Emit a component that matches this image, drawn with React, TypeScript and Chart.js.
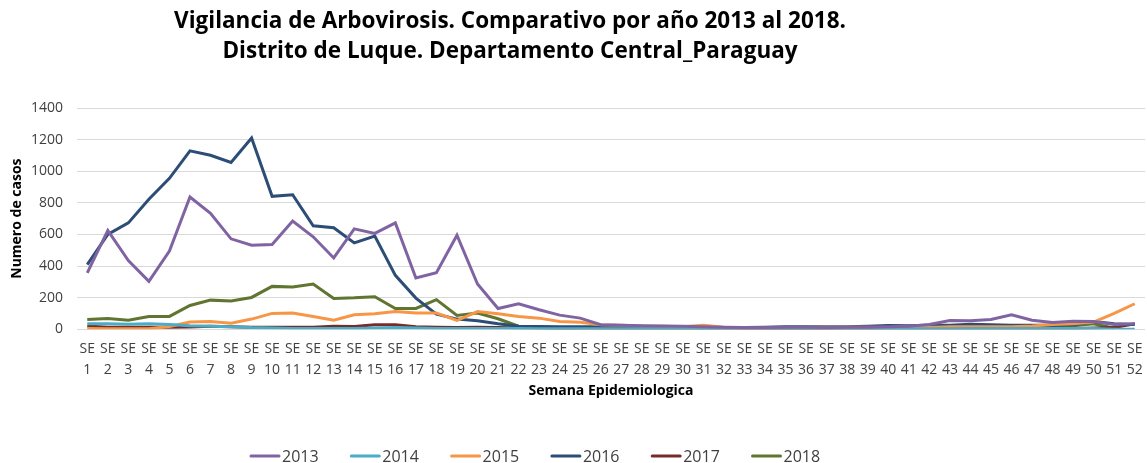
import React, { useEffect, useRef } from 'react';
import { Chart, registerables } from 'chart.js';

Chart.register(...registerables);

const TITLE_LINES = [
  'Vigilancia de Arbovirosis. Comparativo por año 2013 al 2018.',
  'Distrito de Luque. Departamento Central_Paraguay',
];
const Y_TITLE = 'Numero de casos';
const X_TITLE = 'Semana Epidemiologica';

const WEEKS: string[][] = Array.from({ length: 52 }, (_, i) => ['SE', String(i + 1)]);

const YEARS = ['2013', '2014', '2015', '2016', '2017', '2018'];
const COLORS = ['#8064A2', '#4BACC6', '#F79646', '#2C4D75', '#772C2A', '#5F7530'];

const S2013 = [356, 625, 434, 303, 494, 837, 733, 572, 532, 536, 684, 585, 451, 635, 606, 673, 324, 358, 595, 286, 131, 161, 123, 89, 70, 28, 25, 22, 20, 18, 15, 12, 10, 10, 12, 12, 10, 12, 12, 15, 18, 30, 55, 53, 61, 91, 57, 42, 51, 49, 30, 35];
const S2014 = [35, 35, 32, 35, 30, 22, 18, 15, 10, 8, 5, 5, 5, 5, 8, 10, 8, 5, 5, 5, 5, 5, 3, 3, 3, 3, 3, 3, 3, 3, 3, 3, 3, 3, 3, 3, 3, 3, 3, 3, 3, 3, 3, 5, 5, 5, 5, 5, 5, 5, 0, 0];
const S2015 = [5, 3, 3, 3, 17, 45, 48, 38, 64, 100, 102, 81, 57, 91, 98, 112, 102, 102, 55, 112, 98, 81, 70, 49, 44, 28, 25, 20, 18, 15, 25, 12, 10, 10, 10, 10, 12, 12, 12, 10, 10, 10, 15, 15, 15, 15, 20, 30, 35, 45, 100, 161];
const S2016 = [409, 600, 673, 822, 955, 1129, 1101, 1055, 1210, 841, 851, 655, 642, 546, 589, 341, 197, 95, 64, 53, 34, 19, 17, 15, 15, 15, 15, 15, 15, 12, 12, 10, 10, 12, 15, 15, 15, 15, 18, 23, 22, 25, 25, 32, 28, 25, 25, 25, 28, 48, 35, 30];
const S2017 = [20, 12, 12, 13, 13, 14, 18, 15, 12, 12, 12, 12, 18, 17, 28, 28, 16, 12, 10, 12, 10, 8, 5, 5, 3, 3, 3, 3, 3, 3, 3, 3, 3, 3, 3, 3, 3, 3, 3, 3, 3, 3, 3, 3, 3, 3, 3, 3, 5, 8, 10, 34];
const S2018 = [62, 68, 57, 81, 81, 150, 184, 178, 201, 271, 267, 286, 195, 199, 206, 131, 131, 187, 87, 102, 66, 19, 12, 6, 8, 8, 8, 8, 8, 8, 8, 8, 5, 5, 5, 5, 5, 8, 8, 10, 10, 10, 12, 15, 18, 18, 20, 20, 22, 35, 6, null];

const SERIES = [S2013, S2014, S2015, S2016, S2017, S2018];

const FONT = '"Open Sans", "Noto Sans", sans-serif';
const TEXT_GRAY = '#404040';

const decorPlugin = {
  id: 'decor',
  afterDraw(chart: any) {
    const ctx = chart.ctx as CanvasRenderingContext2D;
    ctx.save();
    ctx.fillStyle = '#000';
    ctx.font = `bold 22.5px ${FONT}`;
    ctx.textAlign = 'center';
    ctx.textBaseline = 'middle';
    TITLE_LINES.forEach((t, i) => ctx.fillText(t, 510, 22 + i * 30));
    // legend
    ctx.font = `16px ${FONT}`;
    ctx.textAlign = 'left';
    chart.data.datasets.forEach((ds: any, i: number) => {
      const x0 = 250 + i * 100.3;
      const y = 456;
      ctx.strokeStyle = ds.borderColor;
      ctx.lineWidth = 3;
      ctx.lineCap = 'round';
      ctx.beginPath();
      ctx.moveTo(x0 + 1, y);
      ctx.lineTo(x0 + 29, y);
      ctx.stroke();
      ctx.fillStyle = TEXT_GRAY;
      ctx.fillText(ds.label, x0 + 32, y + 1);
    });
    ctx.restore();
  },
};

export default function App() {
  const ref = useRef<HTMLCanvasElement>(null);
  useEffect(() => {
    if (!ref.current) return;
    const chart = new Chart(ref.current, {
      type: 'line',
      data: {
        labels: WEEKS,
        datasets: YEARS.map((y, i) => ({
          label: y,
          data: SERIES[i],
          borderColor: COLORS[i],
          backgroundColor: COLORS[i],
          borderWidth: 3,
          pointRadius: 0,
          tension: 0,
          fill: false,
        })),
      },
      options: {
        animation: false,
        responsive: true,
        maintainAspectRatio: false,
        layout: { padding: { top: 108, right: 2, bottom: 64, left: 0 } },
        plugins: {
          legend: { display: false },
          title: { display: false },
          tooltip: { enabled: false },
        },
        scales: {
          x: {
            offset: true,
            grid: { display: false, drawTicks: true, tickLength: 9 },
            border: { display: false },
            ticks: {
              autoSkip: false,
              maxRotation: 0,
              minRotation: 0,
              padding: 0,
              color: TEXT_GRAY,
              font: { family: FONT, size: 14, lineHeight: 1.5 },
            },
            title: {
              display: true,
              text: X_TITLE,
              color: '#000',
              font: { family: FONT, size: 14, weight: 'bold' },
              padding: { top: 2, bottom: 0 },
            },
          },
          y: {
            min: 0,
            max: 1400,
            afterFit: (scale: any) => {
              scale.width = 77;
            },
            grid: { color: '#D9D9D9', lineWidth: 1, drawTicks: false },
            border: { display: false },
            ticks: {
              stepSize: 200,
              padding: 14,
              color: TEXT_GRAY,
              font: { family: FONT, size: 14 },
              callback: (v: any) => String(v),
            },
            title: {
              display: true,
              text: Y_TITLE,
              color: '#000',
              font: { family: FONT, size: 14, weight: 'bold' },
              padding: { top: 9, bottom: 4 },
            },
          },
        },
      },
      plugins: [decorPlugin],
    });
    return () => chart.destroy();
  }, []);
  return (
    <div style={{ position: 'fixed', left: 0, top: 0, width: 1147, height: 463, background: '#fff' }}>
      <canvas ref={ref} />
    </div>
  );
}
